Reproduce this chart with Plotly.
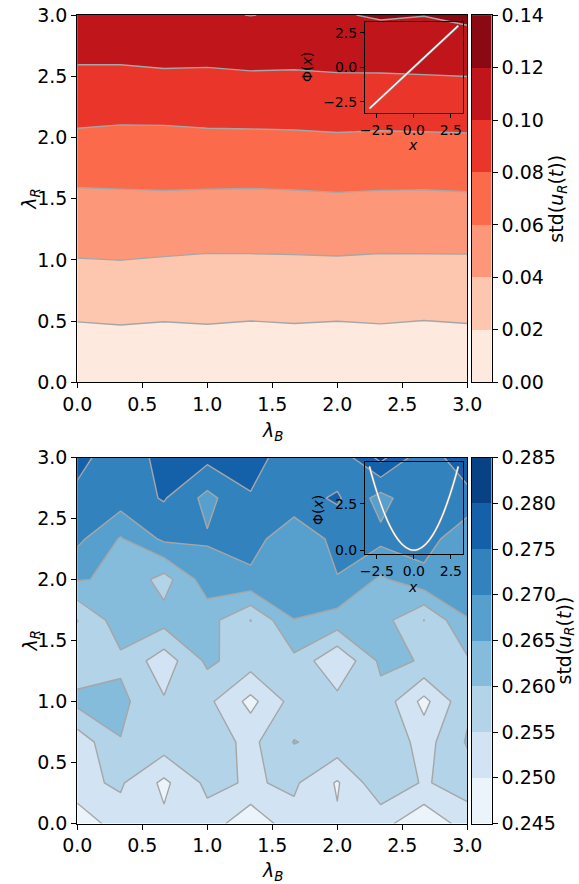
import plotly.graph_objects as go

# Parameter grid (lambda_B along x, lambda_R along y)
lam_B = [0.0, 0.3333, 0.6667, 1.0, 1.3333, 1.6667, 2.0, 2.3333, 2.6667, 3.0]
lam_R = [0.0, 0.3333, 0.6667, 1.0, 1.3333, 1.6667, 2.0, 2.3333, 2.6667, 3.0]

# std(u_R(t)) for the linear potential Phi(x) = x; one row per lam_R value
std_linear = [
    [0.0000, 0.0000, 0.0000, 0.0000, 0.0000, 0.0000, 0.0000, 0.0000, 0.0000, 0.0000],
    [0.0137, 0.0147, 0.0137, 0.0148, 0.0136, 0.0145, 0.0136, 0.0147, 0.0135, 0.0145],
    [0.0268, 0.0278, 0.0267, 0.0271, 0.0263, 0.0270, 0.0265, 0.0270, 0.0261, 0.0270],
    [0.0395, 0.0401, 0.0390, 0.0380, 0.0381, 0.0384, 0.0388, 0.0380, 0.0381, 0.0382],
    [0.0508, 0.0514, 0.0514, 0.0505, 0.0504, 0.0508, 0.0515, 0.0507, 0.0506, 0.0510],
    [0.0627, 0.0631, 0.0637, 0.0635, 0.0632, 0.0637, 0.0645, 0.0639, 0.0637, 0.0644],
    [0.0771, 0.0759, 0.0758, 0.0770, 0.0771, 0.0775, 0.0783, 0.0777, 0.0780, 0.0784],
    [0.0899, 0.0892, 0.0899, 0.0903, 0.0910, 0.0911, 0.0921, 0.0915, 0.0923, 0.0925],
    [0.1028, 0.1030, 0.1045, 0.1038, 0.1052, 0.1046, 0.1055, 0.1061, 0.1065, 0.1077],
    [0.1180, 0.1180, 0.1180, 0.1180, 0.1203, 0.1180, 0.1185, 0.1219, 0.1204, 0.1241],
]

# std(u_R(t)) for the quadratic potential Phi(x) = x^2/2
std_quadratic = [
    [0.2460, 0.2531, 0.2510, 0.2530, 0.2460, 0.2534, 0.2506, 0.2518, 0.2460, 0.2523],
    [0.2540, 0.2556, 0.2489, 0.2562, 0.2545, 0.2558, 0.2495, 0.2587, 0.2545, 0.2573],
    [0.2519, 0.2598, 0.2579, 0.2575, 0.2537, 0.2602, 0.2584, 0.2595, 0.2529, 0.2605],
    [0.2615, 0.2613, 0.2555, 0.2562, 0.2485, 0.2570, 0.2566, 0.2583, 0.2485, 0.2590],
    [0.2565, 0.2590, 0.2522, 0.2610, 0.2574, 0.2588, 0.2505, 0.2610, 0.2597, 0.2593],
    [0.2549, 0.2627, 0.2619, 0.2620, 0.2549, 0.2649, 0.2630, 0.2620, 0.2549, 0.2648],
    [0.2653, 0.2643, 0.2580, 0.2677, 0.2689, 0.2685, 0.2698, 0.2642, 0.2685, 0.2675],
    [0.2712, 0.2646, 0.2710, 0.2705, 0.2720, 0.2665, 0.2714, 0.2713, 0.2722, 0.2665],
    [0.2740, 0.2725, 0.2754, 0.2685, 0.2747, 0.2730, 0.2757, 0.2681, 0.2747, 0.2730],
    [0.2763, 0.2725, 0.2763, 0.2764, 0.2765, 0.2729, 0.2715, 0.2815, 0.2715, 0.2790],
]

# Contour levels (band edges) and band colours
red_levels = [0.00, 0.02, 0.04, 0.06, 0.08, 0.10, 0.12, 0.14]
blue_levels = [0.245, 0.250, 0.255, 0.260, 0.265, 0.270, 0.275, 0.280, 0.285]
red_colors = ["rgb(254,233,223)", "rgb(253,198,175)", "rgb(252,152,121)",
              "rgb(251,106,74)", "rgb(234,54,42)", "rgb(192,21,27)", "rgb(138,9,18)"]
blue_colors = ["rgb(235,243,251)", "rgb(210,227,243)", "rgb(178,211,232)",
               "rgb(133,188,220)", "rgb(87,160,206)", "rgb(50,130,190)",
               "rgb(21,97,169)", "rgb(8,65,132)"]

# Inset curves: the potentials Phi(x)
phi_x_lin = [-3.0, 3.0]
phi_lin = [-3.0, 3.0]
phi_x_quad = [-3.0, -2.75, -2.5, -2.25, -2.0, -1.75, -1.5, -1.25, -1.0, -0.75, -0.5, -0.25, 0.0,
              0.25, 0.5, 0.75, 1.0, 1.25, 1.5, 1.75, 2.0, 2.25, 2.5, 2.75, 3.0]
phi_quad = [4.5, 3.78125, 3.125, 2.53125, 2.0, 1.53125, 1.125, 0.78125, 0.5, 0.28125, 0.125, 0.03125, 0.0,
            0.03125, 0.125, 0.28125, 0.5, 0.78125, 1.125, 1.53125, 2.0, 2.53125, 3.125, 3.78125, 4.5]

FONT = "DejaVu Sans"
W, H = 579, 884


def px_x(v):
    return v / W


def px_y(v):
    return 1 - v / H


def band_scale(colors):
    """Step colour scale: colour k covers the k-th filled band."""
    n = len(colors) - 1
    scale = []
    for k, c in enumerate(colors):
        lo = 0.0 if k == 0 else (2 * k - 1) / (2 * n)
        hi = 1.0 if k == n else (2 * k + 1) / (2 * n)
        scale += [[lo, c], [hi, c]]
    return scale


fig = go.Figure()

line_style = dict(color="#a6a6a6", width=1.4, smoothing=0)

fig.add_trace(go.Contour(
    x=lam_B, y=lam_R, z=std_linear, xaxis="x", yaxis="y",
    autocontour=False,
    contours=dict(start=red_levels[1], end=red_levels[-2],
                  size=red_levels[2] - red_levels[1], coloring="fill", showlines=True),
    colorscale=band_scale(red_colors), showscale=False, line=line_style,
    hoverinfo="skip"))

fig.add_trace(go.Contour(
    x=lam_B, y=lam_R, z=std_quadratic, xaxis="x2", yaxis="y2",
    autocontour=False,
    contours=dict(start=blue_levels[1], end=blue_levels[-2],
                  size=blue_levels[2] - blue_levels[1], coloring="fill", showlines=True),
    colorscale=band_scale(blue_colors), showscale=False, line=line_style,
    hoverinfo="skip"))

# Colour bars drawn as one-column heatmaps over the band edges
fig.add_trace(go.Heatmap(
    x=[0, 1], y=red_levels, z=[[k] for k in range(len(red_colors))],
    zmin=0, zmax=len(red_colors) - 1, colorscale=band_scale(red_colors),
    showscale=False, xaxis="x3", yaxis="y3", hoverinfo="skip"))
fig.add_trace(go.Heatmap(
    x=[0, 1], y=blue_levels, z=[[k] for k in range(len(blue_colors))],
    zmin=0, zmax=len(blue_colors) - 1, colorscale=band_scale(blue_colors),
    showscale=False, xaxis="x4", yaxis="y4", hoverinfo="skip"))

# Inset potentials: grey halo under a white line
for xs, ys, xa, ya, shape in [(phi_x_lin, phi_lin, "x5", "y5", "linear"),
                              (phi_x_quad, phi_quad, "x6", "y6", "spline")]:
    fig.add_trace(go.Scatter(x=xs, y=ys, xaxis=xa, yaxis=ya, mode="lines",
                             line=dict(color="#9a9a9a", width=2.4, shape=shape),
                             hoverinfo="skip", showlegend=False))
    fig.add_trace(go.Scatter(x=xs, y=ys, xaxis=xa, yaxis=ya, mode="lines",
                             line=dict(color="white", width=1.3, shape=shape),
                             hoverinfo="skip", showlegend=False))

main_x_dom = [px_x(77.3), px_x(467.3)]
cb_x_dom = [px_x(471.7), px_x(491.7)]
top_y_dom = [px_y(382.3), px_y(15.1)]
bot_y_dom = [px_y(823.5), px_y(457.5)]
inset_x_dom = [px_x(365.0), px_x(462.7)]
top_inset_y = [px_y(112.7), px_y(21.7)]
bot_inset_y = [px_y(554.3), px_y(462.3)]

tick_vals = [0.0, 0.5, 1.0, 1.5, 2.0, 2.5, 3.0]

frame = dict(showline=True, mirror=True, linecolor="black", linewidth=1.1,
             showgrid=False, zeroline=False, automargin=False)
main_ax = dict(frame, range=[0, 3], tickvals=tick_vals, tickformat=".1f",
               ticks="outside", ticklen=5, tickwidth=1.1, tickcolor="black",
               tickfont=dict(family=FONT, size=19, color="black"))
cb_x = dict(frame, range=[0, 1], showticklabels=False, ticks="")
cb_y = dict(frame, side="right", ticks="outside", ticklen=5, tickwidth=1.1,
            tickcolor="black", tickfont=dict(family=FONT, size=19, color="black"))
inset_ax = dict(frame, ticks="outside", ticklen=4, tickwidth=1, tickcolor="black",
                tickfont=dict(family=FONT, size=14, color="black"))

fig.update_layout(
    template="none",
    width=W, height=H, margin=dict(l=0, r=0, t=0, b=0, pad=0), autosize=False,
    paper_bgcolor="white", plot_bgcolor="rgba(0,0,0,0)", showlegend=False,
    font=dict(family=FONT, size=19, color="black"),
    xaxis=dict(main_ax, domain=main_x_dom, anchor="y"),
    yaxis=dict(main_ax, domain=top_y_dom, anchor="x"),
    xaxis2=dict(main_ax, domain=main_x_dom, anchor="y2"),
    yaxis2=dict(main_ax, domain=bot_y_dom, anchor="x2"),
    xaxis3=dict(cb_x, domain=cb_x_dom, anchor="y3"),
    yaxis3=dict(cb_y, domain=top_y_dom, anchor="x3", range=[red_levels[0], red_levels[-1]],
                tickvals=red_levels, tickformat=".2f"),
    xaxis4=dict(cb_x, domain=cb_x_dom, anchor="y4"),
    yaxis4=dict(cb_y, domain=bot_y_dom, anchor="x4", range=[blue_levels[0], blue_levels[-1]],
                tickvals=blue_levels, tickformat=".3f"),
    xaxis5=dict(inset_ax, domain=inset_x_dom, anchor="y5", range=[-3.3, 3.3],
                tickvals=[-2.5, 0.0, 2.5], ticktext=["\u22122.5", "0.0", "2.5"]),
    yaxis5=dict(inset_ax, domain=top_inset_y, anchor="x5", range=[-3.3, 3.3],
                tickvals=[-2.5, 0.0, 2.5], ticktext=["\u22122.5", "0.0", "2.5"]),
    xaxis6=dict(inset_ax, domain=inset_x_dom, anchor="y6", range=[-3.3, 3.3],
                tickvals=[-2.5, 0.0, 2.5], ticktext=["\u22122.5", "0.0", "2.5"]),
    yaxis6=dict(inset_ax, domain=bot_inset_y, anchor="x6", range=[-0.225, 4.725],
                tickvals=[0.0, 2.5], ticktext=["0.0", "2.5"]),
)

lam_b_txt = "<i>λ</i><sub><i>B</i></sub>"
lam_r_txt = "<i>λ</i><sub><i>R</i></sub>"
std_txt = "std(<i>u</i><sub><i>R</i></sub>(<i>t</i>))"
phi_txt = "Φ(<i>x</i>)"

labels = [
    (lam_b_txt, 272.3, 431, 0, 19),
    (lam_b_txt, 272.3, 871, 0, 19),
    (lam_r_txt, 31, 198.7, -90, 19),
    (lam_r_txt, 31, 640.5, -90, 19),
    (std_txt, 558, 198.7, -90, 19),
    (std_txt, 565, 640.5, -90, 19),
    (phi_txt, 307, 67, -90, 14),
    (phi_txt, 318, 510, -90, 14),
    ("<i>x</i>", 413, 145, 0, 14),
    ("<i>x</i>", 413, 587, 0, 14),
]
for text, x, y, ang, size in labels:
    fig.add_annotation(text=text, x=px_x(x), y=px_y(y), xref="paper", yref="paper",
                       xanchor="center", yanchor="middle", showarrow=False, textangle=ang,
                       font=dict(family=FONT, size=size, color="black"))

fig.write_html("out.html")
